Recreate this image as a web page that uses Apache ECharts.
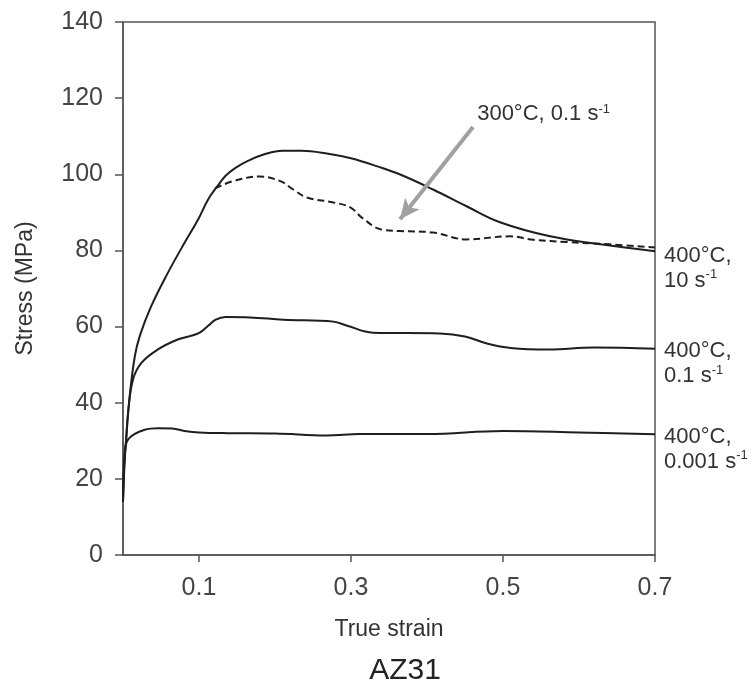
<!DOCTYPE html>
<html><head><meta charset="utf-8">
<script src="https://cdn.jsdelivr.net/npm/echarts@6/dist/echarts.min.js"></script>
<style>html,body{margin:0;padding:0;background:#fff}#c{width:753px;height:683px}</style>
</head><body><div id="c"></div>
<script>
// True strain / Stress (MPa)
const curve10 = [[0,14],[0.002,24],[0.0044,31],[0.0088,41.7],[0.0154,52],[0.022,57.5],[0.037,65.3],[0.059,74.1],[0.081,82],[0.099,88.2],[0.112,93.4],[0.124,96.8],[0.135,99.6],[0.148,101.7],[0.165,103.6],[0.185,105.2],[0.21,106.2],[0.235,106.2],[0.27,105.4],[0.3,104.2],[0.336,102],[0.364,100],[0.408,96],[0.452,91.6],[0.496,87.4],[0.562,83.7],[0.628,81.6],[0.7,79.8]];
const curve300 = [[0.121,96.3],[0.145,98.2],[0.18,99.4],[0.207,98.2],[0.224,96],[0.242,93.9],[0.277,92.6],[0.299,91.3],[0.315,88.5],[0.34,85.5],[0.364,85.1],[0.408,84.7],[0.452,82.9],[0.509,83.7],[0.54,82.8],[0.584,82.2],[0.64,81.6],[0.7,80.8]];
const curve01 = [[0,14],[0.002,25],[0.004,30],[0.0066,37.3],[0.013,46],[0.024,50.4],[0.046,54],[0.072,56.6],[0.088,57.5],[0.101,58.4],[0.112,60.2],[0.122,61.8],[0.135,62.5],[0.167,62.4],[0.211,61.8],[0.277,61.3],[0.294,60.3],[0.329,58.4],[0.417,58.2],[0.45,57.4],[0.48,55.5],[0.51,54.4],[0.56,54],[0.62,54.5],[0.7,54.2]];
const curve0001 = [[0,14],[0.002,26],[0.0066,30.3],[0.0285,32.9],[0.046,33.3],[0.065,33.2],[0.081,32.6],[0.1,32.2],[0.138,32],[0.2,31.9],[0.268,31.4],[0.312,31.8],[0.4,31.8],[0.5,32.6],[0.6,32.2],[0.7,31.7]];
const xTicks = [0.1, 0.3, 0.5, 0.7];
const labels = ['400°C,\n10 s{sup|-1}', '400°C,\n0.1 s{sup|-1}', '400°C,\n0.001 s{sup|-1}'];
const annotation = '300°C, 0.1 s{sup|-1}';
const annotationAt = [0.466, 115.8];
const arrowFrom = [0.4605, 112.4];
const arrowTo = [0.3645, 88.2];

const chart = echarts.init(document.getElementById('c'));
const txt = '#333';
const font = '"Liberation Sans", Arial, sans-serif';
const rich = { sup: { fontSize: 13, verticalAlign: 'top', padding: [0,0,10,0], color: txt, fontFamily: font } };
function endLab(t, dy){
  return { show: true, formatter: t, color: txt, fontSize: 22, fontFamily: font, lineHeight: 25, distance: 9, align: 'left', verticalAlign: 'top', offset: [0, dy], rich: rich };
}
const line = { color: '#1e1e1e', width: 2 };
chart.setOption({
  animation: false,
  backgroundColor: '#fff',
  title: { text: 'AZ31', left: 400, textAlign: 'center', top: 651, textStyle: { fontSize: 30, fontWeight: 'normal', color: '#222', fontFamily: font } },
  grid: { left: 123, right: 98, top: 22, bottom: 128, show: true, borderColor: '#555', borderWidth: 1.5, backgroundColor: 'transparent' },
  xAxis: { type: 'value', min: 0, max: 0.7,
    name: 'True strain', nameLocation: 'middle', nameGap: 63,
    nameTextStyle: { fontSize: 23, color: txt, fontFamily: font },
    axisLine: { lineStyle: { color: '#555', width: 1.5 } },
    axisTick: { show: true, length: 7, customValues: xTicks, lineStyle: { color: '#555', width: 1.5 } },
    axisLabel: { customValues: xTicks, margin: 21, fontSize: 25, color: '#444', fontFamily: font, formatter: v => v.toFixed(1) },
    splitLine: { show: false } },
  yAxis: { type: 'value', min: 0, max: 140, interval: 20,
    name: 'Stress (MPa)', nameLocation: 'middle', nameGap: 86,
    nameTextStyle: { fontSize: 23, color: txt, fontFamily: font },
    axisLine: { show: true, lineStyle: { color: '#555', width: 1.5 } },
    axisTick: { show: true, length: 8, lineStyle: { color: '#555', width: 1.5 } },
    axisLabel: { margin: 20, fontSize: 25, color: '#444', fontFamily: font },
    splitLine: { show: false } },
  series: [
    { type: 'line', data: curve10, smooth: 0.4, showSymbol: false, lineStyle: line, endLabel: endLab(labels[0], -8), z: 3 },
    { type: 'line', data: curve300, smooth: 0.4, showSymbol: false, lineStyle: { color: '#1e1e1e', width: 2, type: [7, 4] }, z: 3,
      markLine: { silent: true, symbol: ['none', 'arrow'], symbolSize: [14, 20], animation: false,
        lineStyle: { color: '#a0a0a0', width: 4, type: 'solid' }, label: { show: false },
        data: [[{ coord: arrowFrom }, { coord: arrowTo }]] },
      markPoint: { symbol: 'rect', symbolSize: 1, itemStyle: { color: 'transparent' },
        data: [{ coord: annotationAt, label: { show: true, formatter: annotation, color: txt, fontSize: 22, fontFamily: font, rich: rich, position: 'inside', align: 'left', verticalAlign: 'middle' } }] } },
    { type: 'line', data: curve01, smooth: 0.4, showSymbol: false, lineStyle: line, endLabel: endLab(labels[1], -10), z: 3 },
    { type: 'line', data: curve0001, smooth: 0.4, showSymbol: false, lineStyle: line, endLabel: endLab(labels[2], -10), z: 3 }
  ]
});
</script></body></html>
